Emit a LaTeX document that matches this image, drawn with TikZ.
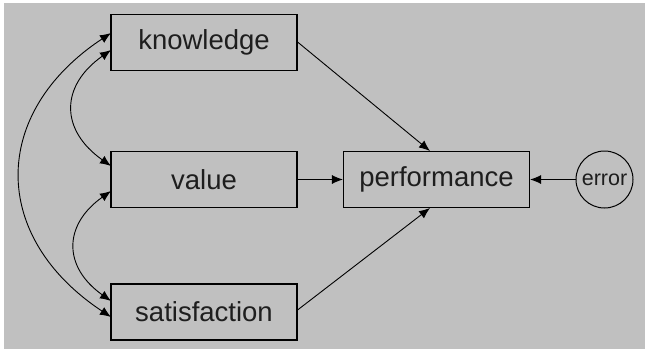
\documentclass[tikz,border=0pt]{standalone}
\usepackage{fontspec}
\setmainfont{Liberation Sans}
\usetikzlibrary{arrows.meta}
\begin{document}
\begin{tikzpicture}[x=1pt,y=-1pt,
  var/.style={draw=black,line width=1.1pt,minimum width=186pt,minimum height=56pt,inner sep=0pt,text={rgb,255:red,30;green,30;blue,30},font=\fontsize{27.5}{30}\selectfont},
  errnode/.style={draw=black,line width=1pt,circle,minimum size=57pt,inner sep=0pt,text={rgb,255:red,30;green,30;blue,30},font=\fontsize{21.5}{24}\selectfont},
  conn/.style={line width=0.9pt,-{Latex[length=11pt,width=9pt]}},
  dconn/.style={line width=0.9pt,{Latex[length=11pt,width=9pt]}-{Latex[length=11pt,width=9pt]}}]
\useasboundingbox (0,0) rectangle (645,349);
\fill[white] (0,0) rectangle (645,349);
\fill[fill={rgb,255:red,192;green,192;blue,192}] (4,3) rectangle (645,349);
\node[var] (k) at (204,42.5) {knowledge};
\node[var] (v) at (204,179.5) {value};
\node[var] (s) at (204,312) {satisfaction};
\node[var] (p) at (436.5,179.5) {performance};
\node[errnode] (e) at (604.5,179.5) {error};
\coordinate (pt) at (430,151);
\coordinate (pb) at (430,208);
\draw[conn] (k.east |- 0,42) -- (pt);
\draw[conn] (v.east) -- (p.west);
\draw[conn] (s.east |- 0,310) -- (pb);
\draw[conn] (e.west) -- (p.east);
\coordinate (k1) at (111,33);
\coordinate (k2) at (111,50);
\coordinate (v1) at (111,166);
\coordinate (v2) at (111,191);
\coordinate (s1) at (111,301);
\coordinate (s2) at (111,317);
\draw[dconn] (k1) .. controls +(-121,80) and +(-121,-80) .. (s2);
\draw[dconn] (k2) .. controls +(-51,36) and +(-51,-36) .. (v1);
\draw[dconn] (v2) .. controls +(-48,34) and +(-48,-34) .. (s1);
\end{tikzpicture}
\end{document}
